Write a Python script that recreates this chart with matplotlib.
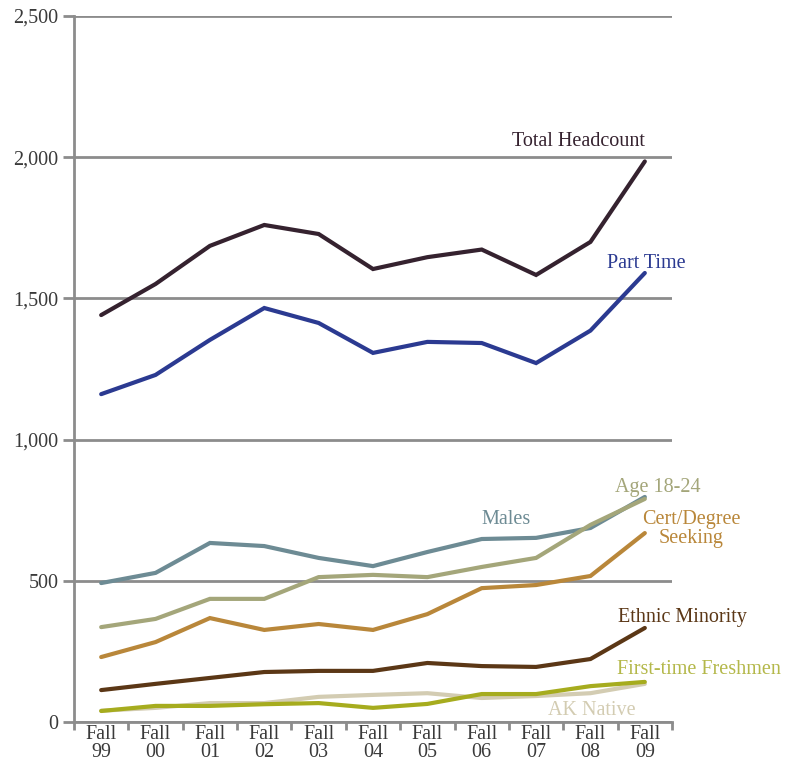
import matplotlib.pyplot as plt
import numpy as np

plt.rcParams['font.family'] = ['Liberation Serif', 'DejaVu Serif']

years = ["Fall\n99", "Fall\n00", "Fall\n01", "Fall\n02", "Fall\n03", "Fall\n04",
         "Fall\n05", "Fall\n06", "Fall\n07", "Fall\n08", "Fall\n09"]

total_headcount = [1441, 1551, 1686, 1760, 1728, 1604, 1646, 1673, 1583, 1700, 1985]
part_time = [1161, 1229, 1353, 1466, 1413, 1307, 1346, 1342, 1271, 1386, 1590]
males = [492, 528, 634, 623, 581, 552, 602, 648, 652, 687, 797]
age_18_24 = [336, 365, 436, 436, 513, 521, 513, 549, 581, 698, 790]
cert_degree = [230, 283, 368, 326, 347, 326, 382, 474, 485, 517, 669]
ethnic_minority = [113, 135, 156, 177, 181, 181, 209, 198, 195, 223, 333]
ak_native = [40, 50, 67, 67, 89, 96, 102, 85, 92, 102, 135]
freshmen = [39, 57, 57, 63, 67, 50, 64, 99, 99, 127, 142]

grid_col = "#8c8c8c"
text_col = "#3a3a3a"

fig = plt.figure(figsize=(7.94, 7.63), dpi=100)
ax = fig.add_axes([74 / 794, (763 - 722) / 763, 598 / 794, 706 / 763])

x = np.arange(len(years))
series = [
    (ak_native, "#d3ccb2"),
    (freshmen, "#a6ac1e"),
    (ethnic_minority, "#5b3716"),
    (cert_degree, "#b9873a"),
    (males, "#6d8b94"),
    (age_18_24, "#a4a67a"),
    (part_time, "#2b3a91"),
    (total_headcount, "#35222f"),
]
for vals, col in series:
    ax.plot(x, vals, color=col, lw=3.0, solid_capstyle="round", solid_joinstyle="miter", zorder=3)

ax.set_xlim(-0.5, 10.5)
ax.set_ylim(0, 2500)
ax.set_yticks([0, 500, 1000, 1500, 2000, 2500])
ax.set_yticklabels(["0", "500", "1,000", "1,500", "2,000", "2,500"])
ax.yaxis.grid(True, color=grid_col, lw=2, zorder=1)
ax.set_axisbelow(True)

ax.set_xticks(x)
ax.set_xticklabels(years, linespacing=0.98)
ax.set_xticks(np.arange(-0.5, 11, 1), minor=True)
ax.tick_params(axis="x", which="major", length=0, pad=2, labelsize=14.5, labelcolor=text_col)
ax.tick_params(axis="x", which="minor", length=6, width=2, color=grid_col)
ax.tick_params(axis="y", length=8, width=2, color=grid_col, labelsize=14.5, labelcolor=text_col, pad=3)

for s in ["top", "right"]:
    ax.spines[s].set_visible(False)
for s in ["left", "bottom"]:
    ax.spines[s].set_color(grid_col)
    ax.spines[s].set_linewidth(2)

lab = dict(fontsize=14.5, zorder=4)
ax.text(10.0, 2055, "Total Headcount", color="#35222f", ha="right", va="center", **lab)
ax.text(9.3, 1625, "Part Time", color="#2b3a91", ha="left", va="center", **lab)
ax.text(9.45, 830, "Age 18-24", color="#a4a67a", ha="left", va="center", **lab)
ax.text(7.45, 718, "Males", color="#6d8b94", ha="center", va="center", **lab)
ax.text(10.85, 683, "Cert/Degree\nSeeking", color="#b9873a", ha="center", va="center",
        linespacing=1.0, clip_on=False, **lab)
ax.text(9.5, 370, "Ethnic Minority", color="#5b3716", ha="left", va="center", clip_on=False, **lab)
ax.text(9.48, 185, "First-time Freshmen", color="#b4b84a", ha="left", va="center", clip_on=False, **lab)
ax.text(9.03, 42, "AK Native", color="#d3ccb2", ha="center", va="center", **lab)

fig.savefig("out.png", dpi=100)
